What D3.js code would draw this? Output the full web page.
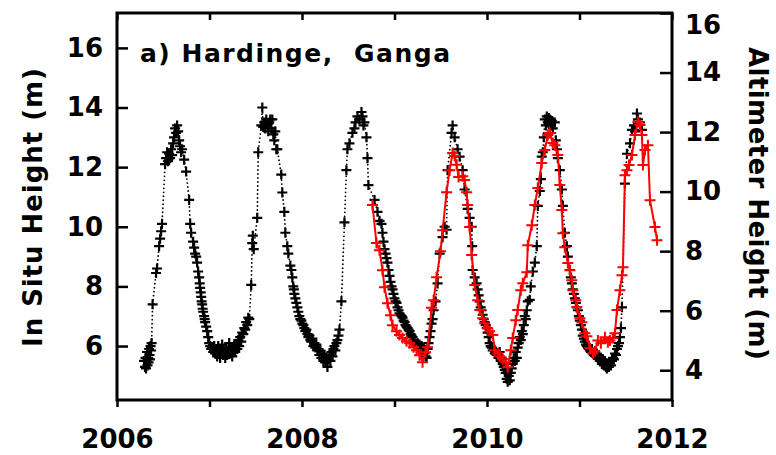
<!DOCTYPE html>
<html>
<head>
<meta charset="utf-8">
<script src="https://cdn.jsdelivr.net/npm/d3@7"></script>
<style>
  body { margin: 0; background: #fff; }
  text { font-family: "DejaVu Sans", sans-serif; }
</style>
</head>
<body>
<div id="chart"></div>
<script>
// In situ gauge height (m), [decimal year, value] -- left axis
const inSitu = [
  [2006.292,5.5],[2006.303,5.3],[2006.309,5.6],[2006.314,5.25],[2006.320,5.5],[2006.325,5.8],[2006.330,5.35],
  [2006.336,5.6],[2006.341,5.45],[2006.347,5.9],[2006.352,5.7],[2006.357,5.55],[2006.363,6.0],[2006.368,5.85],
  [2006.374,6.1],[2006.385,7.4],[2006.422,8.45],[2006.433,8.6],[2006.455,9.35],[2006.466,9.6],[2006.477,9.85],
  [2006.487,10.1],[2006.520,12.1],[2006.531,12.3],[2006.542,12.5],[2006.552,12.2],[2006.563,12.45],[2006.574,12.3],
  [2006.585,12.6],[2006.596,12.4],[2006.607,12.8],[2006.617,13.0],[2006.628,13.3],[2006.639,13.15],[2006.650,13.4],
  [2006.661,13.2],[2006.672,12.9],[2006.682,12.7],[2006.693,12.5],[2006.704,12.6],[2006.726,12.25],[2006.747,11.85],
  [2006.780,10.9],[2006.791,10.1],[2006.801,9.8],[2006.823,9.5],[2006.834,9.3],[2006.845,9.1],[2006.856,9.0],
  [2006.866,8.8],[2006.877,8.5],[2006.888,8.3],[2006.894,8.1],[2006.899,7.95],[2006.905,7.8],[2006.910,7.65],
  [2006.915,7.5],[2006.921,7.4],[2006.926,7.25],[2006.931,7.15],[2006.942,7.0],[2006.948,6.9],[2006.953,6.8],
  [2006.964,6.65],[2006.975,6.5],[2006.986,6.3],[2006.996,6.1],[2007.007,6.0],[2007.018,5.9],[2007.029,5.95],
  [2007.040,5.8],[2007.051,6.0],[2007.061,5.75],[2007.072,5.9],[2007.083,5.65],[2007.094,6.0],[2007.105,5.8],
  [2007.115,5.6],[2007.126,5.9],[2007.137,6.05],[2007.148,5.7],[2007.159,5.85],[2007.170,5.6],[2007.181,5.95],
  [2007.191,5.7],[2007.202,5.85],[2007.213,6.1],[2007.224,5.75],[2007.235,5.9],[2007.246,5.65],[2007.256,5.85],
  [2007.267,6.0],[2007.278,5.8],[2007.289,6.05],[2007.300,5.9],[2007.311,6.2],[2007.321,6.0],[2007.332,6.3],
  [2007.343,6.15],[2007.354,6.45],[2007.365,6.4],[2007.376,6.6],[2007.386,6.55],[2007.397,6.8],[2007.408,6.7],
  [2007.419,6.95],[2007.430,6.9],[2007.451,8.05],[2007.462,9.45],[2007.468,9.7],[2007.478,9.25],[2007.516,10.3],
  [2007.527,12.5],[2007.560,13.4],[2007.571,14.0],[2007.581,13.35],[2007.592,13.5],[2007.603,13.3],[2007.614,13.6],
  [2007.625,13.45],[2007.635,13.2],[2007.646,13.5],[2007.657,13.6],[2007.668,13.3],[2007.679,13.6],[2007.690,13.1],
  [2007.700,12.9],[2007.711,13.2],[2007.722,12.6],[2007.733,12.6],[2007.776,11.75],[2007.787,11.15],[2007.809,10.5],
  [2007.820,9.8],[2007.841,9.35],[2007.852,9.1],[2007.874,8.7],[2007.885,8.55],[2007.895,8.3],[2007.906,8.0],
  [2007.912,7.9],[2007.917,7.75],[2007.928,7.6],[2007.939,7.45],[2007.950,7.3],[2007.960,7.15],[2007.971,7.0],
  [2007.982,6.9],[2007.993,6.85],[2008.004,6.75],[2008.015,6.7],[2008.025,6.6],[2008.036,6.5],[2008.047,6.55],
  [2008.058,6.4],[2008.069,6.3],[2008.080,6.35],[2008.090,6.2],[2008.101,6.15],[2008.112,6.25],[2008.123,6.0],
  [2008.134,6.1],[2008.145,5.95],[2008.155,6.05],[2008.166,5.85],[2008.177,5.9],[2008.188,5.7],[2008.199,5.85],
  [2008.210,5.6],[2008.220,5.75],[2008.231,5.5],[2008.242,5.7],[2008.253,5.45],[2008.264,5.6],[2008.275,5.3],
  [2008.285,5.55],[2008.296,5.7],[2008.307,5.5],[2008.318,5.8],[2008.329,5.65],[2008.340,5.9],[2008.350,6.0],
  [2008.361,5.85],[2008.372,6.1],[2008.383,6.2],[2008.394,6.35],[2008.405,6.55],[2008.426,7.5],[2008.459,10.15],
  [2008.480,11.9],[2008.491,12.6],[2008.513,12.8],[2008.545,13.15],[2008.567,13.3],[2008.578,13.5],[2008.599,13.7],
  [2008.621,13.6],[2008.643,13.85],[2008.654,13.7],[2008.664,13.4],[2008.675,13.5],[2008.697,13.0],[2008.708,12.3],
  [2008.718,11.4],[2008.784,10.9],[2008.816,10.5],[2008.838,10.2],[2008.859,10.1],[2008.870,9.8],[2008.881,9.5],
  [2008.892,9.25],[2008.903,9.1],[2008.913,8.95],[2008.924,8.8],[2008.935,8.55],[2008.946,8.35],[2008.957,8.15],
  [2008.968,8.0],[2008.979,7.9],[2008.989,7.75],[2009.000,7.6],[2009.011,7.5],[2009.022,7.45],[2009.033,7.3],
  [2009.044,7.2],[2009.054,7.1],[2009.065,7.05],[2009.076,7.0],[2009.087,6.95],[2009.098,6.85],[2009.109,6.8],
  [2009.119,6.7],[2009.130,6.65],[2009.141,6.6],[2009.152,6.55],[2009.163,6.5],[2009.174,6.4],[2009.184,6.35],
  [2009.195,6.3],[2009.206,6.2],[2009.217,6.15],[2009.228,6.05],[2009.238,6.0],[2009.249,6.1],[2009.260,5.95],
  [2009.271,6.05],[2009.282,5.9],[2009.293,6.0],[2009.303,5.85],[2009.314,5.95],[2009.325,5.75],[2009.336,5.65],
  [2009.347,5.6],[2009.358,5.9],[2009.368,6.1],[2009.379,6.3],[2009.390,6.5],[2009.401,6.75],[2009.412,6.9],
  [2009.423,7.2],[2009.444,7.5],[2009.466,8.1],[2009.488,9.1],[2009.520,9.65],[2009.542,10.0],[2009.563,9.9],
  [2009.574,11.9],[2009.617,13.15],[2009.628,13.4],[2009.650,13.0],[2009.682,12.6],[2009.704,12.35],[2009.737,11.9],
  [2009.758,11.25],[2009.791,10.6],[2009.812,10.3],[2009.834,10.0],[2009.840,9.35],[2009.845,8.55],[2009.867,8.3],
  [2009.888,8.1],[2009.899,7.9],[2009.910,7.7],[2009.921,7.5],[2009.932,7.3],[2009.942,7.2],[2009.953,7.05],
  [2009.964,6.9],[2009.975,6.8],[2009.986,6.7],[2009.997,6.6],[2010.007,6.45],[2010.018,6.3],[2010.029,6.1],
  [2010.040,6.0],[2010.051,5.95],[2010.062,5.85],[2010.072,5.9],[2010.083,5.75],[2010.094,5.8],[2010.105,5.7],
  [2010.116,5.75],[2010.127,5.6],[2010.137,5.8],[2010.148,5.5],[2010.159,5.6],[2010.170,5.4],[2010.181,5.3],
  [2010.192,5.2],[2010.202,5.1],[2010.213,4.9],[2010.224,4.8],[2010.235,5.0],[2010.246,4.85],[2010.257,5.1],
  [2010.267,5.25],[2010.278,5.4],[2010.289,5.6],[2010.300,5.5],[2010.311,5.8],[2010.322,5.6],[2010.332,5.95],
  [2010.343,6.1],[2010.354,6.3],[2010.365,6.2],[2010.376,6.5],[2010.387,6.4],[2010.397,6.7],[2010.408,7.0],
  [2010.419,6.9],[2010.430,7.2],[2010.441,7.5],[2010.462,7.55],[2010.473,8.0],[2010.495,8.5],[2010.517,8.8],
  [2010.538,9.35],[2010.549,10.7],[2010.571,11.2],[2010.582,11.6],[2010.592,12.35],[2010.603,12.5],[2010.614,13.0],
  [2010.625,13.6],[2010.636,13.4],[2010.646,13.7],[2010.657,13.5],[2010.668,13.65],[2010.679,13.6],[2010.690,13.4],
  [2010.701,13.55],[2010.711,13.3],[2010.733,13.5],[2010.744,12.9],[2010.755,12.6],[2010.766,12.3],[2010.787,11.9],
  [2010.809,11.25],[2010.820,10.7],[2010.841,9.8],[2010.863,9.35],[2010.874,9.0],[2010.896,8.55],[2010.906,8.3],
  [2010.917,8.1],[2010.928,7.9],[2010.939,7.75],[2010.950,7.6],[2010.961,7.45],[2010.971,7.3],[2010.982,7.2],
  [2010.993,7.0],[2011.004,6.85],[2011.015,6.7],[2011.026,6.55],[2011.036,6.35],[2011.047,6.25],[2011.058,6.15],
  [2011.069,6.05],[2011.080,6.0],[2011.091,5.95],[2011.101,5.9],[2011.112,5.85],[2011.123,5.8],[2011.134,5.9],
  [2011.145,5.75],[2011.156,5.7],[2011.166,5.8],[2011.177,5.65],[2011.188,5.75],[2011.199,5.6],[2011.210,5.7],
  [2011.221,5.5],[2011.231,5.6],[2011.242,5.4],[2011.253,5.55],[2011.264,5.35],[2011.275,5.5],[2011.286,5.3],
  [2011.296,5.25],[2011.307,5.4],[2011.318,5.3],[2011.329,5.45],[2011.340,5.35],[2011.351,5.5],[2011.362,5.6],
  [2011.372,5.55],[2011.383,5.75],[2011.394,5.7],[2011.405,5.9],[2011.416,6.0],[2011.427,6.1],[2011.437,6.3],
  [2011.448,6.6],[2011.459,7.3],[2011.491,11.45],[2011.513,12.45],[2011.546,12.8],[2011.567,13.25],[2011.589,13.4],
  [2011.600,13.2],[2011.621,13.8],[2011.632,13.6],[2011.654,13.5],[2011.675,13.25]
];

// Altimeter height (m), [decimal year, value] -- right axis
const altimeter = [
  [2008.762,9.55],[2008.805,8.27],[2008.838,8.03],[2008.870,7.36],[2008.892,6.79],[2008.924,6.25],[2008.957,5.85],
  [2008.979,5.51],[2009.022,5.31],[2009.054,5.18],[2009.087,5.08],[2009.130,4.97],[2009.163,4.91],[2009.206,4.77],
  [2009.238,4.67],[2009.271,4.50],[2009.303,4.27],[2009.336,4.60],[2009.358,4.77],[2009.401,6.1],[2009.423,6.35],
  [2009.455,7.12],[2009.498,8.0],[2009.520,8.7],[2009.563,9.98],[2009.596,10.72],[2009.628,11.3],[2009.650,11.2],
  [2009.672,10.9],[2009.693,10.49],[2009.737,10.52],[2009.758,10.39],[2009.780,9.98],[2009.791,9.55],[2009.812,8.81],
  [2009.834,7.87],[2009.867,6.86],[2009.899,6.35],[2009.921,6.02],[2009.953,5.75],[2009.975,5.58],[2010.007,5.41],
  [2010.029,5.31],[2010.062,5.18],[2010.083,4.67],[2010.116,4.57],[2010.137,4.47],[2010.170,4.37],[2010.202,4.27],
  [2010.224,4.10],[2010.257,4.67],[2010.278,5.08],[2010.311,5.68],[2010.332,6.02],[2010.365,6.69],[2010.387,6.92],
  [2010.430,7.29],[2010.441,8.2],[2010.484,8.87],[2010.517,9.55],[2010.549,10.12],[2010.592,10.96],[2010.625,11.4],
  [2010.657,11.9],[2010.679,11.97],[2010.711,11.63],[2010.733,11.56],[2010.766,11.23],[2010.787,10.22],[2010.809,9.38],
  [2010.820,8.6],[2010.841,8.13],[2010.874,7.6],[2010.896,7.36],[2010.917,7.02],[2010.928,6.69],[2010.961,6.35],
  [2010.971,6.12],[2011.004,5.75],[2011.026,5.61],[2011.058,5.24],[2011.080,5.14],[2011.112,4.74],[2011.145,4.57],
  [2011.166,4.64],[2011.199,5.0],[2011.231,4.91],[2011.275,5.11],[2011.307,4.94],[2011.329,5.0],[2011.361,5.08],
  [2011.383,5.24],[2011.405,6.02],[2011.437,6.69],[2011.459,7.19],[2011.470,7.46],[2011.491,10.55],[2011.513,10.72],
  [2011.535,10.89],[2011.567,11.23],[2011.600,11.9],[2011.632,12.34],[2011.654,12.24],[2011.675,11.9],[2011.686,10.89],
  [2011.708,11.4],[2011.740,11.56],[2011.762,9.71],[2011.816,8.81],[2011.838,8.37]
];

const xTicks = [2006, 2007, 2008, 2009, 2010, 2011, 2012];
const xLabels = [2006, 2008, 2010, 2012];
const leftTicks = [6, 8, 10, 12, 14, 16];
const rightTicks = [4, 6, 8, 10, 12, 14, 16];
const titleText = "a) Hardinge,  Ganga";
const leftLabel = "In Situ Height (m)";
const rightLabel = "Altimeter Height (m)";

const W = 776, H = 455;
const box = { left: 117, right: 672, top: 13, bottom: 400 };

const svg = d3.select("#chart").append("svg")
  .attr("width", W)
  .attr("height", H);

const x = d3.scaleLinear().domain([2006, 2012]).range([box.left, box.right]);
const yL = d3.scaleLinear().domain([4.19, 17.17]).range([box.bottom, box.top]);
const yR = d3.scaleLinear().domain([3, 16]).range([box.bottom, box.top]);

const tickFont = g => g.selectAll("text")
  .attr("font-family", "DejaVu Sans")
  .attr("font-weight", "bold")
  .attr("font-size", 26)
  .attr("fill", "#000");

const tickStroke = g => {
  g.select(".domain").remove();
  g.selectAll(".tick line").attr("stroke", "#000").attr("stroke-width", 2.5);
};

// bottom axis, ticks point outwards
svg.append("g")
  .attr("transform", "translate(0," + box.bottom + ")")
  .call(d3.axisBottom(x).tickValues(xTicks).tickSize(7).tickPadding(23)
    .tickFormat(d => xLabels.includes(d) ? String(d) : ""))
  .call(tickStroke)
  .call(tickFont);

// top axis, no labels
svg.append("g")
  .attr("transform", "translate(0," + box.top + ")")
  .call(d3.axisTop(x).tickValues(xTicks).tickSize(-7).tickFormat(""))
  .call(tickStroke);

// left axis
svg.append("g")
  .attr("transform", "translate(" + box.left + ",0)")
  .call(d3.axisLeft(yL).tickValues(leftTicks).tickSize(-11).tickPadding(14))
  .call(tickStroke)
  .call(tickFont);

// right axis
const rAxis = svg.append("g")
  .attr("transform", "translate(" + box.right + ",0)")
  .call(d3.axisRight(yR).tickValues(rightTicks).tickSize(-12).tickPadding(13))
  .call(tickStroke)
  .call(tickFont);
// top label sits a little below the corner
rAxis.selectAll(".tick text").filter(d => d === 16).attr("y", 12);

// frame
svg.append("rect")
  .attr("x", box.left).attr("y", box.top)
  .attr("width", box.right - box.left)
  .attr("height", box.bottom - box.top)
  .attr("fill", "none")
  .attr("stroke", "#000")
  .attr("stroke-width", 3);

const plot = svg.append("g");

// in situ: dotted line + crosses
plot.append("path")
  .datum(inSitu)
  .attr("fill", "none")
  .attr("stroke", "#000")
  .attr("stroke-width", 1.8)
  .attr("stroke-linecap", "round")
  .attr("stroke-dasharray", "0,4")
  .attr("d", d3.line().x(d => x(d[0])).y(d => yL(d[1])));

plot.append("g")
  .selectAll("path")
  .data(inSitu)
  .join("path")
  .attr("transform", d => "translate(" + x(d[0]) + "," + yL(d[1]) + ")")
  .attr("d", "M-5,0H5M0,-5V5")
  .attr("stroke", "#000")
  .attr("stroke-width", 2.2);

// altimeter: solid red line + crosses
plot.append("path")
  .datum(altimeter)
  .attr("fill", "none")
  .attr("stroke", "#ff0000")
  .attr("stroke-width", 2)
  .attr("d", d3.line().x(d => x(d[0])).y(d => yR(d[1])));

plot.append("g")
  .selectAll("path")
  .data(altimeter)
  .join("path")
  .attr("transform", d => "translate(" + x(d[0]) + "," + yR(d[1]) + ")")
  .attr("d", "M-5.5,0H5.5M0,-5.5V5.5")
  .attr("stroke", "#ff0000")
  .attr("stroke-width", 2);

// title
svg.append("text")
  .attr("x", 140).attr("y", 62)
  .attr("font-size", 25)
  .attr("font-weight", "bold")
  .attr("textLength", 310)
  .attr("lengthAdjust", "spacing")
  .style("white-space", "pre")
  .text(titleText);

// axis titles
svg.append("text")
  .attr("transform", "translate(42,207.5) rotate(-90)")
  .attr("text-anchor", "middle")
  .attr("font-size", 26)
  .attr("font-weight", "bold")
  .attr("textLength", 279)
  .attr("lengthAdjust", "spacing")
  .text(leftLabel);

svg.append("text")
  .attr("transform", "translate(749,203.5) rotate(90)")
  .attr("text-anchor", "middle")
  .attr("font-size", 26)
  .attr("font-weight", "bold")
  .attr("textLength", 313)
  .attr("lengthAdjust", "spacing")
  .text(rightLabel);
</script>
</body>
</html>
